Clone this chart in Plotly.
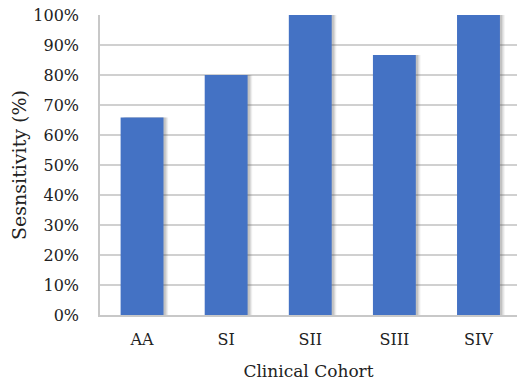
import plotly.graph_objects as go

# Sensitivity by clinical cohort
cohorts = ["AA", "SI", "SII", "SIII", "SIV"]
sensitivity = [0.658, 0.80, 1.00, 0.867, 1.00]

bar_color = "#4472C4"
bar_width = 0.51
font_family = "DejaVu Serif"

fig = go.Figure()

# soft drop shadow behind the bars (layers of translucent grey, shifted right)
for shift, alpha in [(0.055, 0.10), (0.04, 0.14), (0.025, 0.18)]:
    fig.add_trace(go.Bar(
        x=cohorts, y=sensitivity,
        width=bar_width, offset=-bar_width / 2 + shift,
        marker=dict(color=f"rgba(90,90,90,{alpha})", line=dict(width=0)),
        hoverinfo="skip", showlegend=False,
    ))

fig.add_trace(go.Bar(
    x=cohorts, y=sensitivity,
    width=bar_width, offset=-bar_width / 2,
    marker=dict(color=bar_color, line=dict(width=0)),
    showlegend=False,
))

fig.update_layout(
    width=517, height=383,
    margin=dict(l=100, r=0, t=15, b=68),
    barmode="overlay",
    paper_bgcolor="white", plot_bgcolor="white",
    font=dict(family=font_family, size=16, color="#222222"),
    xaxis=dict(
        range=[-0.5, 4.458],
        showgrid=False,
        showline=True, linecolor="#c8c8c8", linewidth=1.5,
        ticks="", ticklabelstandoff=9,
        title=dict(text="Clinical Cohort", font=dict(size=17), standoff=17),
    ),
    yaxis=dict(
        range=[0, 1.0],
        tickvals=[i / 10 for i in range(11)],
        tickformat=".0%",
        showgrid=True, gridcolor="#d0d0d0", gridwidth=1.5,
        showline=True, linecolor="#c8c8c8", linewidth=1.5,
        zeroline=False,
        ticks="", ticklabelstandoff=16,
        title=dict(text="Sesnsitivity (%)", font=dict(size=19), standoff=2),
    ),
)

fig.write_html("out.html")
